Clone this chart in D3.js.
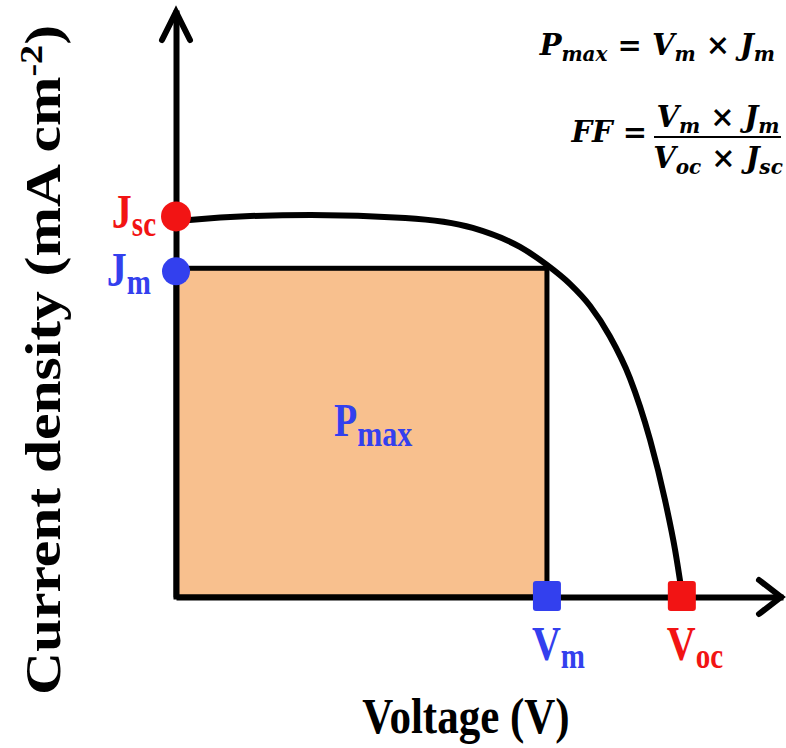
<!DOCTYPE html>
<html>
<head>
<meta charset="utf-8">
<script src="https://cdn.jsdelivr.net/npm/d3@7"></script>
<style>
  html, body { margin: 0; padding: 0; background: #ffffff; }
  svg { display: block; }
</style>
</head>
<body>
<div id="chart"></div>
<script>
// J–V curve of a solar cell (voltage in V, current density in mA cm^-2)
const voltage = [0, 0.02, 0.11, 0.20, 0.34, 0.44, 0.51, 0.55, 0.584, 0.614, 0.643, 0.673, 0.703, 0.725, 0.740, 0.751];
const current = [19.2, 19.27, 19.47, 19.52, 19.37, 18.86, 17.89, 16.97, 16.0, 14.87, 13.34, 11.19, 8.02, 4.96, 2.40, 0];

// Characteristic points
const keyNames = ["Jsc", "Jm", "Vm", "Voc"];
const keyValues = [19.45, 16.8, 0.55, 0.75];
const Jsc = keyValues[0], Jm = keyValues[1], Vm = keyValues[2], Voc = keyValues[3];

const axisTitles = ["Voltage (V)", "Current density (mA cm", "-2", ")"];

const W = 786, H = 748;
const RED = "#F21414", BLUE = "#3340EE", FILL = "#F8C08E";
const SERIF = "'Liberation Serif', 'Times New Roman', serif";
const MATH = "'DejaVu Serif', serif";
const STRETCH = 1.2;

const svg = d3.select("#chart").append("svg")
  .attr("width", W).attr("height", H);

const x = d3.scaleLinear().domain([0, 0.9]).range([176, 783]);
const y = d3.scaleLinear().domain([0, 30]).range([597, 10]);

// Maximum power rectangle
svg.append("rect")
  .attr("x", x(0)).attr("y", y(Jm))
  .attr("width", x(Vm) - x(0)).attr("height", y(0) - y(Jm))
  .attr("fill", FILL)
  .attr("stroke", "#000").attr("stroke-width", 5);

// Axes without ticks
const xAxis = d3.axisBottom(x).tickValues([]).tickSizeOuter(0);
const yAxis = d3.axisLeft(y).tickValues([]).tickSizeOuter(0);
const gx = svg.append("g").attr("transform", `translate(0,${y(0)})`).call(xAxis);
const gy = svg.append("g").attr("transform", `translate(${x(0)},0)`).call(yAxis);
[gx, gy].forEach(g => g.select(".domain")
  .attr("stroke", "#000").attr("stroke-width", 6).attr("stroke-linecap", "butt"));

// Arrow heads
const xEnd = x.range()[1], yEnd = y.range()[1];
svg.append("path")
  .attr("d", `M${xEnd - 24},${y(0) - 17} L${xEnd - 2},${y(0)} L${xEnd - 24},${y(0) + 17}`)
  .attr("fill", "none").attr("stroke", "#000").attr("stroke-width", 6)
  .attr("stroke-linecap", "round").attr("stroke-linejoin", "miter");
svg.append("path")
  .attr("d", `M${x(0) - 14},${yEnd + 30} L${x(0)},${yEnd + 2} L${x(0) + 14},${yEnd + 30}`)
  .attr("fill", "none").attr("stroke", "#000").attr("stroke-width", 6)
  .attr("stroke-linecap", "round").attr("stroke-linejoin", "miter");

// J–V curve
const pts = voltage.map((v, i) => [v, current[i]]);
const line = d3.line().x(d => x(d[0])).y(d => y(d[1])).curve(d3.curveMonotoneX);
svg.append("path").datum(pts)
  .attr("d", line)
  .attr("fill", "none").attr("stroke", "#000").attr("stroke-width", 6)
  .attr("stroke-linecap", "butt");

// Markers
svg.append("circle").attr("cx", x(0)).attr("cy", y(Jsc)).attr("r", 15).attr("fill", RED);
svg.append("circle").attr("cx", x(0)).attr("cy", y(Jm) + 3).attr("r", 14).attr("fill", BLUE);
[[Vm, BLUE], [Voc, RED]].forEach(([v, c]) => {
  svg.append("rect")
    .attr("x", x(v) - 14).attr("y", y(0) - 16)
    .attr("width", 28).attr("height", 30).attr("rx", 3)
    .attr("fill", c);
});

// Text, optionally stretched vertically
function label(px, py, parts, opts = {}) {
  const sy = opts.stretch === undefined ? STRETCH : opts.stretch;
  const t = svg.append("text")
    .attr("transform", `translate(${px},${py}) scale(1,${sy})` + (opts.rotate ? ` rotate(${opts.rotate})` : ""))
    .attr("font-family", opts.family || SERIF)
    .attr("font-weight", "bold")
    .attr("font-style", opts.italic ? "italic" : "normal")
    .attr("fill", opts.color || "#000")
    .attr("text-anchor", opts.anchor || "start");
  let shift = 0;
  parts.forEach(p => {
    const s = t.append("tspan").text(p.t).attr("font-size", p.size);
    const dy = (p.dy || 0) - shift;
    if (dy) s.attr("dy", dy);
    shift = p.dy || 0;
    if (p.style) s.attr("font-style", p.style);
    if (p.dx) s.attr("dx", p.dx);
  });
  return t;
}

// Point labels
label(156, 228, [{t: "J", size: 40}, {t: "sc", size: 29, dy: 7}], {color: RED, anchor: "end"});
label(151, 286, [{t: "J", size: 40}, {t: "m", size: 29, dy: 7}], {color: BLUE, anchor: "end"});
label(x(Vm) - 15, 660, [{t: "V", size: 40}, {t: "m", size: 29, dy: 7}], {color: BLUE});
label(x(Voc) - 15, 660, [{t: "V", size: 40}, {t: "oc", size: 29, dy: 7}], {color: RED});
label(334, 436, [{t: "P", size: 38}, {t: "max", size: 30, dy: 8}], {color: BLUE});

// Axis titles
label(466, 733, [{t: axisTitles[0], size: 43}], {anchor: "middle"});
label(60, 360, [{t: axisTitles[1], size: 50}, {t: axisTitles[2], size: 32, dy: -18}, {t: axisTitles[3], size: 50, dy: 0}],
  {anchor: "middle", rotate: -90, stretch: 1.19});

// Formulas
const mathOpts = (anchor) => ({italic: true, anchor, family: MATH, stretch: 1.05});
label(775, 55, [
  {t: "P", size: 29}, {t: "max", size: 20, dy: 6},
  {t: " = ", size: 29, style: "normal"},
  {t: "V", size: 29}, {t: "m", size: 20, dy: 6},
  {t: " × ", size: 29, style: "normal"},
  {t: "J", size: 29}, {t: "m", size: 20, dy: 6}
], mathOpts("end"));

label(647, 142, [{t: "FF", size: 29}, {t: " =", size: 29, style: "normal"}], mathOpts("end"));
label(718, 127, [
  {t: "V", size: 29}, {t: "m", size: 20, dy: 6},
  {t: " × ", size: 29, style: "normal"},
  {t: "J", size: 29}, {t: "m", size: 20, dy: 6}
], mathOpts("middle"));
label(718, 168, [
  {t: "V", size: 29}, {t: "oc", size: 20, dy: 6},
  {t: " × ", size: 29, style: "normal"},
  {t: "J", size: 29}, {t: "sc", size: 20, dy: 6}
], mathOpts("middle"));
svg.append("line").attr("x1", 654).attr("x2", 781).attr("y1", 137).attr("y2", 137)
  .attr("stroke", "#000").attr("stroke-width", 2);
</script>
</body>
</html>
